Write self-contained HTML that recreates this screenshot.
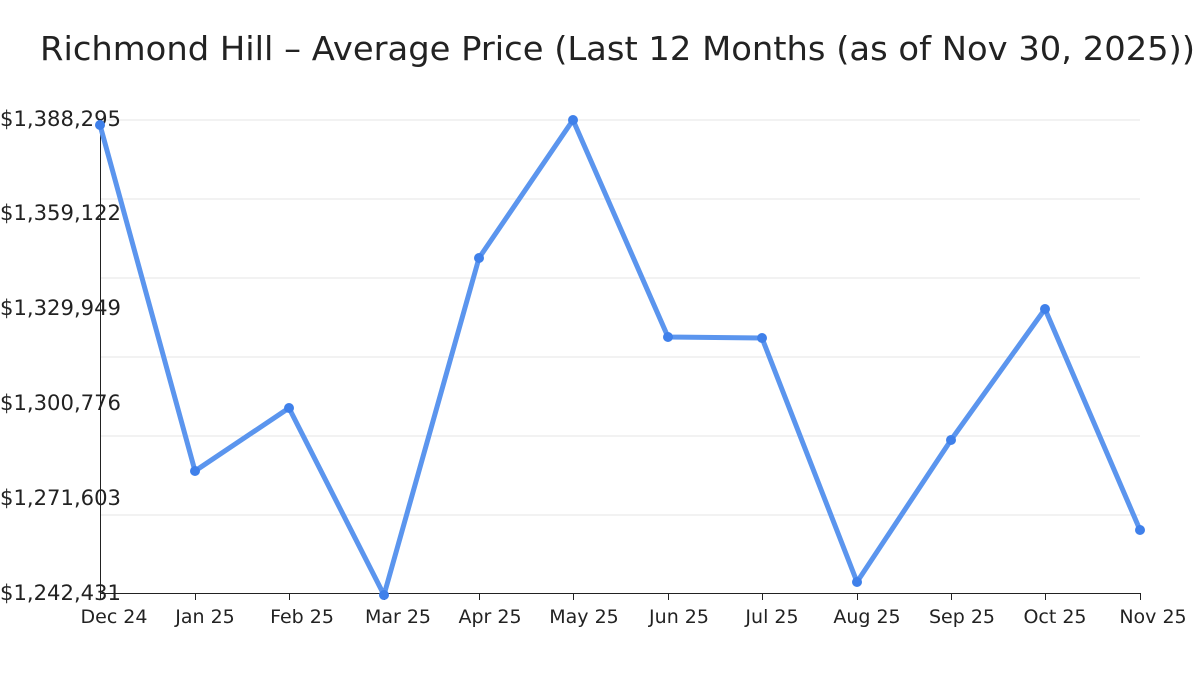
<!DOCTYPE html>
<html><head><meta charset="utf-8"><style>
html,body{margin:0;padding:0;background:#fff;}
svg text{font-family:"DejaVu Sans","Liberation Sans",sans-serif;fill:#222;}
</style></head><body>
<svg width="1200" height="675" xmlns="http://www.w3.org/2000/svg">
<text x="40" y="60" font-size="33" textLength="1155" lengthAdjust="spacingAndGlyphs">Richmond Hill – Average Price (Last 12 Months (as of Nov 30, 2025))</text>
<g stroke="#e4e4e4" stroke-width="1">
<line x1="100" x2="1140" y1="120" y2="120"/>
<line x1="100" x2="1140" y1="199" y2="199"/>
<line x1="100" x2="1140" y1="278" y2="278"/>
<line x1="100" x2="1140" y1="357" y2="357"/>
<line x1="100" x2="1140" y1="436" y2="436"/>
<line x1="100" x2="1140" y1="515" y2="515"/>
</g>
<line x1="100.5" x2="100.5" y1="120" y2="594" stroke="#222" stroke-width="1"/>
<line x1="100" x2="1141" y1="593.5" y2="593.5" stroke="#222" stroke-width="1"/>
<g stroke="#222" stroke-width="1">
<line x1="100.5" x2="100.5" y1="594" y2="600"/><line x1="195.5" x2="195.5" y1="594" y2="600"/><line x1="289.5" x2="289.5" y1="594" y2="600"/><line x1="384.5" x2="384.5" y1="594" y2="600"/><line x1="479.5" x2="479.5" y1="594" y2="600"/><line x1="573.5" x2="573.5" y1="594" y2="600"/><line x1="668.5" x2="668.5" y1="594" y2="600"/><line x1="762.5" x2="762.5" y1="594" y2="600"/><line x1="857.5" x2="857.5" y1="594" y2="600"/><line x1="951.5" x2="951.5" y1="594" y2="600"/><line x1="1045.5" x2="1045.5" y1="594" y2="600"/><line x1="1140.5" x2="1140.5" y1="594" y2="600"/>
</g>
<g font-size="21" text-anchor="start">
<text x="0" y="126" textLength="121" lengthAdjust="spacingAndGlyphs">$1,388,295</text>
<text x="0" y="220" textLength="121" lengthAdjust="spacingAndGlyphs">$1,359,122</text>
<text x="0" y="315" textLength="121" lengthAdjust="spacingAndGlyphs">$1,329,949</text>
<text x="0" y="410" textLength="121" lengthAdjust="spacingAndGlyphs">$1,300,776</text>
<text x="0" y="505" textLength="121" lengthAdjust="spacingAndGlyphs">$1,271,603</text>
<text x="0" y="600" textLength="121" lengthAdjust="spacingAndGlyphs">$1,242,431</text>
</g>
<g font-size="19" text-anchor="middle">
<text x="114" y="623">Dec 24</text><text x="205" y="623">Jan 25</text><text x="302" y="623">Feb 25</text><text x="398" y="623">Mar 25</text><text x="490" y="623">Apr 25</text><text x="584" y="623">May 25</text><text x="679" y="623">Jun 25</text><text x="772" y="623">Jul 25</text><text x="867" y="623">Aug 25</text><text x="962" y="623">Sep 25</text><text x="1055" y="623">Oct 25</text><text x="1153" y="623">Nov 25</text>
</g>
<polyline fill="none" stroke="#5b95ee" stroke-width="5" stroke-linejoin="round" points="100,125 195,471 289,408 384,595 479,258 573,120 668,337 762,338 857,582 951,440 1045,309 1140,530"/>
<g fill="#3f80ea">
<circle cx="100" cy="125" r="5"/><circle cx="195" cy="471" r="5"/><circle cx="289" cy="408" r="5"/><circle cx="384" cy="595" r="5"/><circle cx="479" cy="258" r="5"/><circle cx="573" cy="120" r="5"/><circle cx="668" cy="337" r="5"/><circle cx="762" cy="338" r="5"/><circle cx="857" cy="582" r="5"/><circle cx="951" cy="440" r="5"/><circle cx="1045" cy="309" r="5"/><circle cx="1140" cy="530" r="5"/>
</g>
</svg>
</body></html>
